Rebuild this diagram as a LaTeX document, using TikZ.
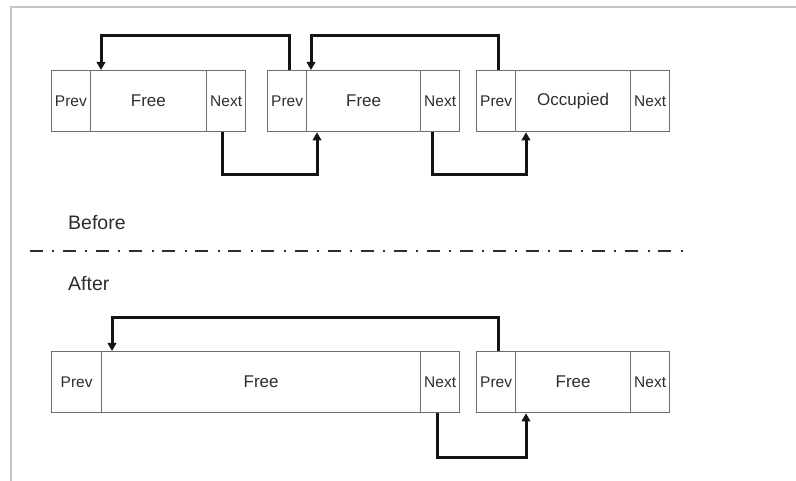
\documentclass[tikz,border=0pt]{standalone}
\usepackage{fontspec}
\setmainfont{Liberation Sans}
\usetikzlibrary{arrows.meta}
\definecolor{framegray}{RGB}{196,196,196}
\definecolor{boxgray}{RGB}{110,110,110}
\definecolor{txtgray}{RGB}{45,45,45}
\definecolor{linkblack}{RGB}{20,20,20}
\definecolor{sepgray}{RGB}{45,45,45}
\begin{document}
\begin{tikzpicture}[x=1pt,y=-1pt,
  cell/.style={draw=boxgray, line width=1.3pt, minimum height=61pt, inner sep=0pt,
    anchor=north west, text=txtgray, font=\fontsize{15.5}{15.5}\selectfont},
  body/.style={cell, font=\fontsize{17}{17}\selectfont},
  link/.style={draw=linkblack, line width=3pt, line join=miter,
    -{Triangle[length=8pt,width=8.5pt]}},
  caption/.style={anchor=base west, text=txtgray, inner sep=0pt,
    font=\fontsize{19.5}{19.5}\selectfont}]
\useasboundingbox (0,0) rectangle (796,481);
% frame edges
\draw[framegray, line width=2.5pt] (11,481) -- (11,7) -- (796,7);

% before: three blocks
\node[cell, minimum width=38.5pt] (p1) at (51,70) {Prev};
\node[body, minimum width=116.5pt] (f1) at (89.5,70) {Free};
\node[cell, minimum width=39pt] (n1) at (206,70) {Next};

\node[cell, minimum width=39pt] (p2) at (267,70) {Prev};
\node[body, minimum width=114pt] (f2) at (306,70) {Free};
\node[cell, minimum width=39pt] (n2) at (420,70) {Next};

\node[cell, minimum width=39pt] (p3) at (476,70) {Prev};
\node[body, minimum width=115pt] (o3) at (515,70) {Occupied};
\node[cell, minimum width=39pt] (n3) at (630,70) {Next};

% before: links
\draw[link] ([xshift=2.5pt]p2.north) -- ([xshift=2.5pt]p2.north |- 0,36)
  -| ([xshift=11.5pt]f1.north west);
\draw[link] ([xshift=2.5pt]p3.north) -- ([xshift=2.5pt]p3.north |- 0,36)
  -| ([xshift=5pt]f2.north west);
\draw[link] ([xshift=-3.5pt]n1.south) -- ([xshift=-3.5pt]n1.south |- 0,175)
  -| ([xshift=11pt]f2.south west);
\draw[link] ([xshift=-7.5pt]n2.south) -- ([xshift=-7.5pt]n2.south |- 0,175)
  -| ([xshift=11pt]o3.south west);

% captions and separator
\node[caption] (before) at (68,229.5) {Before};
\draw[sepgray, line width=2.8pt, dash pattern=on 13pt off 9.3pt on 2pt off 8.77pt]
  (30,251) -- (683,251);
\node[caption] (after) at (68,290.5) {After};

% after: two blocks
\node[cell, minimum width=50pt] (p4) at (51,351) {Prev};
\node[body, minimum width=319pt] (f4) at (101,351) {Free};
\node[cell, minimum width=39pt] (n4) at (420,351) {Next};

\node[cell, minimum width=39pt] (p5) at (476,351) {Prev};
\node[body, minimum width=115pt] (f5) at (515,351) {Free};
\node[cell, minimum width=39pt] (n5) at (630,351) {Next};

% after: links
\draw[link] ([xshift=2.5pt]p5.north) -- ([xshift=2.5pt]p5.north |- 0,318)
  -| ([xshift=11pt]f4.north west);
\draw[link] ([xshift=-2.5pt]n4.south) -- ([xshift=-2.5pt]n4.south |- 0,457)
  -| ([xshift=11pt]f5.south west);
\end{tikzpicture}
\end{document}
